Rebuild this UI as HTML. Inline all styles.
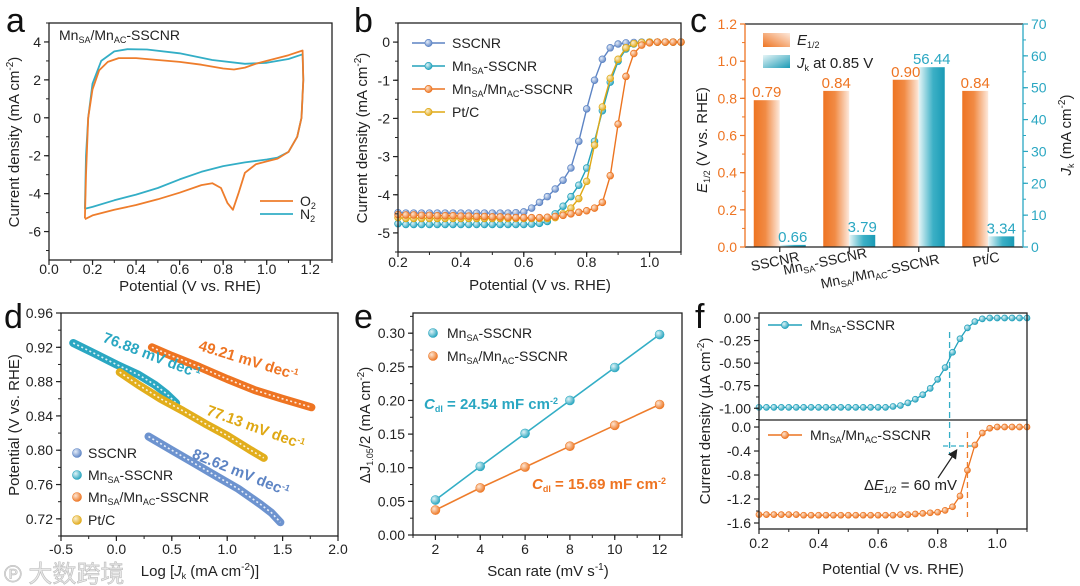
<!DOCTYPE html>
<html><head><meta charset="utf-8">
<style>
html,body{margin:0;padding:0;background:#fff;}
svg{display:block;font-family:"Liberation Sans","Noto Sans CJK SC",sans-serif;}
</style></head>
<body>
<svg id="fig" width="1080" height="586" viewBox="0 0 1080 586" xmlns="http://www.w3.org/2000/svg">
<defs>
<radialGradient id="g-blue" cx="0.35" cy="0.35" r="0.7"><stop offset="0" stop-color="#e4ecf8"/><stop offset="1" stop-color="#5d84c4"/></radialGradient>
<radialGradient id="g-teal" cx="0.35" cy="0.35" r="0.7"><stop offset="0" stop-color="#dff3f7"/><stop offset="1" stop-color="#23a2bc"/></radialGradient>
<radialGradient id="g-orange" cx="0.35" cy="0.35" r="0.7"><stop offset="0" stop-color="#fde5d2"/><stop offset="1" stop-color="#ec7420"/></radialGradient>
<radialGradient id="g-yellow" cx="0.35" cy="0.35" r="0.7"><stop offset="0" stop-color="#fbefcf"/><stop offset="1" stop-color="#e0a816"/></radialGradient>
<linearGradient id="bar-or" x1="0" x2="1" y1="0" y2="0"><stop offset="0" stop-color="#ee7422"/><stop offset="0.45" stop-color="#f18b45"/><stop offset="1" stop-color="#fde9dc"/></linearGradient>
<linearGradient id="bar-te" x1="0" x2="1" y1="0" y2="0"><stop offset="0" stop-color="#e6f5f7"/><stop offset="0.55" stop-color="#3cb0c6"/><stop offset="1" stop-color="#1a9ab5"/></linearGradient>
<linearGradient id="leg-or" x1="0" x2="1" y1="1" y2="0"><stop offset="0" stop-color="#ee7422"/><stop offset="1" stop-color="#fde9dc"/></linearGradient>
<linearGradient id="leg-te" x1="0" x2="1" y1="0" y2="1"><stop offset="0" stop-color="#e6f5f7"/><stop offset="1" stop-color="#1a9ab5"/></linearGradient>
<marker id="arrowhead" markerWidth="8" markerHeight="8" refX="6" refY="4" orient="auto"><path d="M0,0 L8,4 L0,8 z" fill="#222"/></marker>
</defs>
<g id="marks"></g>

<g font-size="34" fill="#111">
<text x="6" y="32">a</text>
<text x="354" y="32">b</text>
<text x="690" y="32">c</text>
<text x="4" y="328">d</text>
<text x="354" y="328">e</text>
<text x="695" y="328">f</text>
</g>

<g font-size="15" fill="#222">
<text x="190" y="291" text-anchor="middle">Potential (V vs. RHE)</text>
<text transform="translate(19,142) rotate(-90)" text-anchor="middle">Current density (mA cm<tspan dy="-6" font-size="10">-2</tspan><tspan dy="6">)</tspan></text>
<text x="59" y="40" font-size="14">Mn<tspan font-size="9" dy="3">SA</tspan><tspan dy="-3">/Mn</tspan><tspan font-size="9" dy="3">AC</tspan><tspan dy="-3">-SSCNR</tspan></text>
<text x="300" y="206" font-size="14">O<tspan font-size="9" dy="3">2</tspan></text>
<text x="300" y="219" font-size="14">N<tspan font-size="9" dy="3">2</tspan></text>
<text x="540" y="290" text-anchor="middle">Potential (V vs. RHE)</text>
<text transform="translate(367,138) rotate(-90)" text-anchor="middle">Current density (mA cm<tspan dy="-6" font-size="10">-2</tspan><tspan dy="6">)</tspan></text>
<text x="452" y="48" font-size="14">SSCNR</text>
<text x="452" y="71" font-size="14">Mn<tspan font-size="9" dy="3">SA</tspan><tspan dy="-3">-SSCNR</tspan></text>
<text x="452" y="94" font-size="14">Mn<tspan font-size="9" dy="3">SA</tspan><tspan dy="-3">/Mn</tspan><tspan font-size="9" dy="3">AC</tspan><tspan dy="-3">-SSCNR</tspan></text>
<text x="452" y="117" font-size="14">Pt/C</text>
<text transform="translate(707,140) rotate(-90)" text-anchor="middle"><tspan font-style="italic">E</tspan><tspan font-size="9" dy="3">1/2</tspan><tspan dy="-3"> (V vs. RHE)</tspan></text>
<text transform="translate(1071,135) rotate(-90)" text-anchor="middle"><tspan font-style="italic">J</tspan><tspan font-size="9" dy="3">k</tspan><tspan dy="-3"> (mA cm</tspan><tspan dy="-6" font-size="10">-2</tspan><tspan dy="6">)</tspan></text>
<text x="797" y="45" font-size="15"><tspan font-style="italic">E</tspan><tspan font-size="9" dy="3">1/2</tspan></text>
<text x="797" y="68" font-size="15"><tspan font-style="italic">J</tspan><tspan font-size="9" dy="3">k</tspan><tspan dy="-3"> at 0.85 V</tspan></text>
<text transform="translate(776,266) rotate(-12)" text-anchor="middle" font-size="14">SSCNR</text>
<text transform="translate(826,266) rotate(-12)" text-anchor="middle" font-size="14">Mn<tspan font-size="9" dy="3">SA</tspan><tspan dy="-3">-SSCNR</tspan></text>
<text transform="translate(881,276) rotate(-12)" text-anchor="middle" font-size="14">Mn<tspan font-size="9" dy="3">SA</tspan><tspan dy="-3">/Mn</tspan><tspan font-size="9" dy="3">AC</tspan><tspan dy="-3">-SSCNR</tspan></text>
<text transform="translate(987,264) rotate(-12)" text-anchor="middle" font-size="14">Pt/C</text>
<text x="200" y="576" text-anchor="middle">Log [<tspan font-style="italic">J</tspan><tspan font-size="9" dy="3">k</tspan><tspan dy="-3"> (mA cm</tspan><tspan dy="-6" font-size="10">-2</tspan><tspan dy="6">)]</tspan></text>
<text transform="translate(19,425) rotate(-90)" text-anchor="middle">Potential (V vs. RHE)</text>
<text x="88" y="458" font-size="14">SSCNR</text>
<text x="88" y="480" font-size="14">Mn<tspan font-size="9" dy="3">SA</tspan><tspan dy="-3">-SSCNR</tspan></text>
<text x="88" y="502" font-size="14">Mn<tspan font-size="9" dy="3">SA</tspan><tspan dy="-3">/Mn</tspan><tspan font-size="9" dy="3">AC</tspan><tspan dy="-3">-SSCNR</tspan></text>
<text x="88" y="525" font-size="14">Pt/C</text>
<g font-weight="bold" font-size="15">
<text transform="translate(150,360) rotate(21)" text-anchor="middle" fill="#2aa7c2">76.88 mV dec<tspan dy="-5" font-size="9">-1</tspan></text>
<text transform="translate(247,365) rotate(17)" text-anchor="middle" fill="#ee7422">49.21 mV dec<tspan dy="-5" font-size="9">-1</tspan></text>
<text transform="translate(254,432) rotate(20)" text-anchor="middle" fill="#dfa814">77.13 mV dec<tspan dy="-5" font-size="9">-1</tspan></text>
<text transform="translate(239,477) rotate(22)" text-anchor="middle" fill="#5d84c4">82.62 mV dec<tspan dy="-5" font-size="9">-1</tspan></text>
</g>
<text x="548" y="576" text-anchor="middle">Scan rate (mV s<tspan dy="-6" font-size="10">-1</tspan><tspan dy="6">)</tspan></text>
<text transform="translate(370,425) rotate(-90)" text-anchor="middle">ΔJ<tspan font-size="9" dy="3">1.05</tspan><tspan dy="-3">/2 (mA cm</tspan><tspan dy="-6" font-size="10">-2</tspan><tspan dy="6">)</tspan></text>
<text x="447" y="338" font-size="14">Mn<tspan font-size="9" dy="3">SA</tspan><tspan dy="-3">-SSCNR</tspan></text>
<text x="447" y="361" font-size="14">Mn<tspan font-size="9" dy="3">SA</tspan><tspan dy="-3">/Mn</tspan><tspan font-size="9" dy="3">AC</tspan><tspan dy="-3">-SSCNR</tspan></text>
<text x="424" y="409" font-size="15" font-weight="bold" fill="#2aa7c2"><tspan font-style="italic">C</tspan><tspan font-size="9" dy="3">dl</tspan><tspan dy="-3"> = 24.54 mF cm</tspan><tspan dy="-5" font-size="9">-2</tspan></text>
<text x="532" y="489" font-size="15" font-weight="bold" fill="#ee7422"><tspan font-style="italic">C</tspan><tspan font-size="9" dy="3">dl</tspan><tspan dy="-3"> = 15.69 mF cm</tspan><tspan dy="-5" font-size="9">-2</tspan></text>
<text x="893" y="574" text-anchor="middle">Potential (V vs. RHE)</text>
<text transform="translate(710,421) rotate(-90)" text-anchor="middle">Current density (μA cm<tspan dy="-6" font-size="10">-2</tspan><tspan dy="6">)</tspan></text>
<text x="810" y="330" font-size="14">Mn<tspan font-size="9" dy="3">SA</tspan><tspan dy="-3">-SSCNR</tspan></text>
<text x="810" y="440" font-size="14">Mn<tspan font-size="9" dy="3">SA</tspan><tspan dy="-3">/Mn</tspan><tspan font-size="9" dy="3">AC</tspan><tspan dy="-3">-SSCNR</tspan></text>
<text x="864" y="490" font-size="15">Δ<tspan font-style="italic">E</tspan><tspan font-size="9" dy="3">1/2</tspan><tspan dy="-3"> = 60 mV</tspan></text>
</g>
<text x="4" y="582" font-size="24" fill="#e8e8e8" stroke="#bbb" stroke-width="0.6">℗ 大数跨境</text>
</svg>
<script>
const cvO2X=[0.165,0.17,0.18,0.2,0.23,0.27,0.32,0.4,0.5,0.6,0.7,0.8,0.85,0.9,0.95,1.0,1.1,1.165,1.168,1.16,1.14,1.1,1.05,1.0,0.95,0.9,0.87,0.845,0.82,0.79,0.75,0.7,0.6,0.5,0.4,0.3,0.2,0.165];
const cvO2Y=[-5.3,-3,0,1.5,2.5,2.95,3.15,3.15,3.05,2.95,2.8,2.6,2.55,2.65,2.85,3.0,3.3,3.55,2,0,-1.0,-1.8,-2.15,-2.3,-2.45,-2.9,-4.0,-4.85,-4.5,-3.7,-3.45,-3.55,-3.95,-4.3,-4.6,-4.85,-5.15,-5.35];
const cvN2X=[0.165,0.17,0.18,0.2,0.24,0.3,0.36,0.45,0.6,0.75,0.9,1.0,1.1,1.165,1.168,1.16,1.14,1.1,1.05,1.0,0.9,0.8,0.7,0.6,0.5,0.4,0.3,0.2,0.165];
const cvN2Y=[-4.8,-2,0,1.8,3.0,3.5,3.62,3.6,3.4,3.05,2.85,2.9,3.1,3.35,2,0,-1,-1.8,-2.1,-2.2,-2.35,-2.55,-2.85,-3.25,-3.7,-4.05,-4.35,-4.7,-4.8];
const lsvX=[0.2,0.225,0.25,0.275,0.3,0.325,0.35,0.375,0.4,0.425,0.45,0.475,0.5,0.525,0.55,0.575,0.6,0.625,0.65,0.675,0.7,0.725,0.75,0.775,0.8,0.825,0.85,0.875,0.9,0.925,0.95,0.975,1.0,1.025,1.05,1.075,1.1];
const lsvSSCNR=[-4.47,-4.48,-4.48,-4.48,-4.48,-4.48,-4.48,-4.48,-4.48,-4.48,-4.48,-4.48,-4.48,-4.48,-4.48,-4.47,-4.45,-4.35,-4.2,-4.05,-3.85,-3.62,-3.3,-2.6,-1.75,-1.0,-0.45,-0.15,-0.05,-0.02,-0.01,0,0,0,0,0,0];
const lsvMnSA=[-4.76,-4.78,-4.78,-4.78,-4.78,-4.78,-4.78,-4.78,-4.78,-4.78,-4.78,-4.78,-4.78,-4.78,-4.78,-4.78,-4.78,-4.77,-4.75,-4.7,-4.5,-4.3,-4.05,-3.75,-3.3,-2.6,-1.8,-1.05,-0.5,-0.18,-0.05,-0.01,0,0,0,0,0];
const lsvMnMn=[-4.52,-4.53,-4.53,-4.54,-4.54,-4.55,-4.55,-4.55,-4.56,-4.56,-4.57,-4.57,-4.58,-4.58,-4.59,-4.6,-4.6,-4.6,-4.6,-4.59,-4.57,-4.54,-4.5,-4.46,-4.42,-4.35,-4.2,-3.5,-2.15,-0.9,-0.3,-0.08,-0.02,0,0,0,0];
const lsvPtC=[-4.6,-4.62,-4.62,-4.62,-4.62,-4.62,-4.62,-4.62,-4.62,-4.62,-4.62,-4.62,-4.62,-4.62,-4.62,-4.62,-4.62,-4.62,-4.62,-4.62,-4.6,-4.5,-4.35,-4.1,-3.65,-2.7,-1.7,-0.95,-0.45,-0.15,-0.04,-0.01,0,0,0,0,0];
const barCats=['SSCNR','MnSA-SSCNR','MnSA/MnAC-SSCNR','Pt/C'];
const barE12=[0.79,0.84,0.90,0.84];
const barJk=[0.66,3.79,56.44,3.34];
const barE12Labels=['0.79','0.84','0.90','0.84'];
const barJkLabels=['0.66','3.79','56.44','3.34'];
const tafSSCNRX=[0.29,0.5,0.7,0.9,1.1,1.3,1.4,1.48];
const tafSSCNRY=[0.816,0.800,0.785,0.770,0.755,0.737,0.727,0.716];
const tafMnSAX=[-0.39,-0.2,0,0.2,0.35,0.45,0.54];
const tafMnSAY=[0.925,0.913,0.900,0.888,0.876,0.866,0.855];
const tafMnMnX=[0.32,0.5,0.75,1.0,1.25,1.5,1.76];
const tafMnMnY=[0.920,0.910,0.897,0.883,0.870,0.860,0.850];
const tafPtCX=[0.03,0.2,0.4,0.6,0.8,1.0,1.2,1.33];
const tafPtCY=[0.891,0.876,0.860,0.846,0.831,0.817,0.801,0.791];
const scanRates=[2,4,6,8,10,12];
const cdlMnSA=[0.052,0.102,0.151,0.200,0.249,0.298];
const cdlMnMn=[0.037,0.070,0.101,0.132,0.163,0.194];
const fX=[0.2,0.225,0.25,0.275,0.3,0.325,0.35,0.375,0.4,0.425,0.45,0.475,0.5,0.525,0.55,0.575,0.6,0.625,0.65,0.675,0.7,0.725,0.75,0.775,0.8,0.825,0.85,0.875,0.9,0.925,0.95,0.975,1.0,1.025,1.05,1.075,1.1];
const fTop=[-0.99,-0.99,-0.99,-0.99,-0.99,-0.99,-0.99,-0.99,-0.99,-0.99,-0.99,-0.99,-0.99,-0.99,-0.99,-0.99,-0.99,-0.99,-0.98,-0.97,-0.94,-0.9,-0.85,-0.78,-0.68,-0.55,-0.38,-0.23,-0.11,-0.04,-0.01,0,0,0,0,0,0];
const fBot=[-1.46,-1.46,-1.46,-1.46,-1.46,-1.46,-1.47,-1.47,-1.47,-1.47,-1.47,-1.47,-1.47,-1.47,-1.47,-1.47,-1.47,-1.47,-1.47,-1.46,-1.46,-1.45,-1.44,-1.43,-1.42,-1.39,-1.33,-1.15,-0.72,-0.3,-0.1,-0.02,0,0,0,0,0];
const aXTicks=[0,0.2,0.4,0.6,0.8,1.0,1.2], aXLabels=['0.0','0.2','0.4','0.6','0.8','1.0','1.2'];
const aYTicks=[-6,-4,-2,0,2,4], aYLabels=['-6','-4','-2','0','2','4'];
const bXTicks=[0.2,0.4,0.6,0.8,1.0], bXLabels=['0.2','0.4','0.6','0.8','1.0'];
const bYTicks=[-5,-4,-3,-2,-1,0], bYLabels=['-5','-4','-3','-2','-1','0'];
const cLTicks=[0,0.2,0.4,0.6,0.8,1.0,1.2], cLLabels=['0.0','0.2','0.4','0.6','0.8','1.0','1.2'];
const cRTicks=[0,10,20,30,40,50,60,70], cRLabels=['0','10','20','30','40','50','60','70'];
const dXTicks=[-0.5,0,0.5,1.0,1.5,2.0], dXLabels=['-0.5','0.0','0.5','1.0','1.5','2.0'];
const dYTicks=[0.72,0.76,0.80,0.84,0.88,0.92,0.96], dYLabels=['0.72','0.76','0.80','0.84','0.88','0.92','0.96'];
const eXTicks=[2,4,6,8,10,12], eXLabels=['2','4','6','8','10','12'];
const eYTicks=[0,0.05,0.10,0.15,0.20,0.25,0.30], eYLabels=['0.00','0.05','0.10','0.15','0.20','0.25','0.30'];
const fXTicks=[0.2,0.4,0.6,0.8,1.0], fXLabels=['0.2','0.4','0.6','0.8','1.0'];
const f1Ticks=[-1,-0.75,-0.5,-0.25,0], f1Labels=['-1.00','-0.75','-0.50','-0.25','0.00'];
const f2Ticks=[-1.6,-1.2,-0.8,-0.4,0], f2Labels=['-1.6','-1.2','-0.8','-0.4','0.0'];

const NS='http://www.w3.org/2000/svg';
const root=document.getElementById('marks');
function mk(tag,attrs,parent){const e=document.createElementNS(NS,tag);for(const k in attrs)e.setAttribute(k,attrs[k]);(parent||root).appendChild(e);return e;}
function lin(d0,d1,p0,p1){return v=>p0+(v-d0)/(d1-d0)*(p1-p0);}
function frame(name,L,R,T,B){
  const r=mk('rect',{x:L,y:T,width:R-L,height:B-T,fill:'none',stroke:'#222','stroke-width':1.3});
  
  
}
function xAxis(name,sx,B,ticks,labels,minorStep,lo,hi,off){
  ticks.forEach((t,i)=>{
    const l=mk('line',{x1:sx(t),x2:sx(t),y1:B,y2:B+5,stroke:'#222','stroke-width':1.2});
    
    
    const tx=mk('text',{x:sx(t),y:B+off,'text-anchor':'middle','font-size':14,fill:'#222'});
    tx.textContent=labels[i];
    
    
  });
  for(let v=lo;v<=hi+1e-9;v+=minorStep){
    const m=mk('line',{x1:sx(v),x2:sx(v),y1:B,y2:B+3,stroke:'#222','stroke-width':1});
    
    
  }
}
function yAxis(name,sy,X,ticks,labels,minorStep,lo,hi,color,right){
  const dir=right?1:-1;
  ticks.forEach((t,i)=>{
    const l=mk('line',{x1:X,x2:X+dir*5,y1:sy(t),y2:sy(t),stroke:color,'stroke-width':1.2});
    
    
    const tx=mk('text',{x:X+dir*8,y:sy(t)+5,'text-anchor':right?'start':'end','font-size':14,fill:color});
    tx.textContent=labels[i];
    
    
  });
  for(let v=lo;v<=hi+1e-9;v+=minorStep){
    const m=mk('line',{x1:X,x2:X+dir*3,y1:sy(v),y2:sy(v),stroke:color,'stroke-width':1});
    
    
  }
}
function pathD(xs,ys,sx,sy){return xs.map((x,i)=>(i?'L':'M')+sx(x).toFixed(1)+','+sy(ys[i]).toFixed(1)).join(' ');}

// A
const sxA=lin(0,1.3,49,332), syA=lin(5,-7.5,23,260);
const pN2=mk('path',{d:pathD(cvN2X,cvN2Y,sxA,syA),fill:'none',stroke:'#33aec6','stroke-width':1.8,'stroke-linejoin':'round'});


const pO2=mk('path',{d:pathD(cvO2X,cvO2Y,sxA,syA),fill:'none',stroke:'#ee7d2c','stroke-width':1.8,'stroke-linejoin':'round'});


frame('a-plot-frame',49,332,23,260);
xAxis('a-x-axis',sxA,260,aXTicks,aXLabels,0.1,0,1.3,14);
yAxis('a-y-axis',syA,49,aYTicks,aYLabels,1,-7,5,'#222',false);
const lgO2=mk('line',{x1:260,x2:293,y1:201,y2:201,stroke:'#ee7d2c','stroke-width':1.8});


const lgN2=mk('line',{x1:260,x2:293,y1:214,y2:214,stroke:'#33aec6','stroke-width':1.8});



// B
const sxB=lin(0.2,1.1,398,681), syB=lin(0.5,-5.5,23,252);
const bSeries=[[lsvSSCNR,'#5d84c4','g-blue','sscnr'],[lsvMnSA,'#23a2bc','g-teal','mnsa'],[lsvPtC,'#dfa814','g-yellow','ptc'],[lsvMnMn,'#ec7420','g-orange','mnsa-mnac']];
bSeries.forEach(s=>{
  const p=mk('path',{d:pathD(lsvX,s[0],sxB,syB),fill:'none',stroke:s[1],'stroke-width':1.4});
  
  
  lsvX.forEach((x,i)=>{
    const c=mk('circle',{cx:sxB(x),cy:syB(s[0][i]),r:3.4,fill:'url(#'+s[2]+')',stroke:s[1],'stroke-width':0.7});
    
    
  });
});
frame('b-plot-frame',398,681,23,252);
xAxis('b-x-axis',sxB,252,bXTicks,bXLabels,0.1,0.2,1.1,15);
yAxis('b-y-axis',syB,398,bYTicks,bYLabels,0.5,-5.5,0.5,'#222',false);
[['#5d84c4','g-blue',43,'sscnr'],['#23a2bc','g-teal',66,'mnsa'],['#ec7420','g-orange',89,'mnsa-mnac'],['#dfa814','g-yellow',112,'ptc']].forEach(s=>{
  const l=mk('line',{x1:412,x2:445,y1:s[2],y2:s[2],stroke:s[0],'stroke-width':1.4});
  
  
  const c=mk('circle',{cx:428.5,cy:s[2],r:3.6,fill:'url(#'+s[1]+')',stroke:s[0],'stroke-width':0.7});
  
  
});

// C
const cL=745,cR=1023,cT=24,cB=247;
const syCL=lin(0,1.2,cB,cT), syCR=lin(0,70,cB,cT);
const bandW=(cR-cL)/barCats.length, barW=26;
barCats.forEach((cat,i)=>{
  const cx=cL+bandW*(i+0.5);
  const r1=mk('rect',{x:cx-barW,y:syCL(barE12[i]),width:barW,height:cB-syCL(barE12[i]),fill:'url(#bar-or)'});
  
  
  const r2=mk('rect',{x:cx,y:syCR(barJk[i]),width:barW,height:cB-syCR(barJk[i]),fill:'url(#bar-te)'});
  
  
  const t1=mk('text',{x:cx-barW/2,y:syCL(barE12[i])-3,'text-anchor':'middle','font-size':15,fill:'#ee7422'});
  t1.textContent=barE12Labels[i];
  
  
  const t2=mk('text',{x:cx+barW/2,y:syCR(barJk[i])-3,'text-anchor':'middle','font-size':15,fill:'#2aa7c2'});
  t2.textContent=barJkLabels[i];
  
  
  const tk=mk('line',{x1:cx,x2:cx,y1:cB,y2:cB+5,stroke:'#222','stroke-width':1.2});
  
  
});
const ctop=mk('line',{x1:cL,x2:cR,y1:cT,y2:cT,stroke:'#222','stroke-width':1.3});


const cbot=mk('line',{x1:cL,x2:cR,y1:cB,y2:cB,stroke:'#222','stroke-width':1.3});


const cla=mk('line',{x1:cL,x2:cL,y1:cT,y2:cB,stroke:'#ee7422','stroke-width':1.3});


const cra=mk('line',{x1:cR,x2:cR,y1:cT,y2:cB,stroke:'#2aa7c2','stroke-width':1.3});


yAxis('c-left-axis',syCL,cL,cLTicks,cLLabels,0.1,0,1.2,'#ee7422',false);
yAxis('c-right-axis',syCR,cR,cRTicks,cRLabels,5,0,70,'#2aa7c2',true);
const sw1=mk('rect',{x:763,y:33,width:27,height:14,fill:'url(#leg-or)'});


const sw2=mk('rect',{x:763,y:55,width:27,height:13,fill:'url(#leg-te)'});



// D
const sxD=lin(-0.5,2.0,61,338), syD=lin(0.70,0.96,536,313);
[[tafSSCNRX,tafSSCNRY,'#6d93cf','sscnr'],[tafMnSAX,tafMnSAY,'#2aa7c2','mnsa'],[tafPtCX,tafPtCY,'#e2ae1c','ptc'],[tafMnMnX,tafMnMnY,'#ee7422','mnsa-mnac']].forEach(s=>{
  const d=pathD(s[0],s[1],sxD,syD);
  const p=mk('path',{d:d,fill:'none',stroke:s[2],'stroke-width':8,'stroke-linecap':'round','stroke-linejoin':'round'});
  
  
  const p2=mk('path',{d:d,fill:'none',stroke:'#fff','stroke-width':1.6,'stroke-dasharray':'2 2.5',opacity:0.85});
  
  
});
frame('d-plot-frame',61,338,313,536);
xAxis('d-x-axis',sxD,536,dXTicks,dXLabels,0.25,-0.5,2.0,18);
yAxis('d-y-axis',syD,61,dYTicks,dYLabels,0.02,0.70,0.96,'#222',false);
[['g-blue','#5d84c4',453,'sscnr'],['g-teal','#23a2bc',475,'mnsa'],['g-orange','#ec7420',497,'mnsa-mnac'],['g-yellow','#dfa814',520,'ptc']].forEach(s=>{
  const c=mk('circle',{cx:77,cy:s[2],r:4.5,fill:'url(#'+s[0]+')',stroke:s[1],'stroke-width':0.6});
  
  
});

// E
const sxE=lin(1,13,413,682), syE=lin(0,0.33,535,313);
[[cdlMnSA,'#33aec6','g-teal','mnsa'],[cdlMnMn,'#ee7d2c','g-orange','mnsa-mnac']].forEach(s=>{
  const p=mk('path',{d:pathD(scanRates,s[0],sxE,syE),fill:'none',stroke:s[1],'stroke-width':1.6});
  
  
  scanRates.forEach((x,i)=>{
    const c=mk('circle',{cx:sxE(x),cy:syE(s[0][i]),r:4.5,fill:'url(#'+s[2]+')',stroke:s[1],'stroke-width':0.6});
    
    
  });
});
frame('e-plot-frame',413,682,313,535);
xAxis('e-x-axis',sxE,535,eXTicks,eXLabels,1,1,13,19);
yAxis('e-y-axis',syE,413,eYTicks,eYLabels,0.025,0,0.325,'#222',false);
[['g-teal','#23a2bc',333,'mnsa'],['g-orange','#ec7420',356,'mnsa-mnac']].forEach(s=>{
  const c=mk('circle',{cx:433,cy:s[2],r:4.5,fill:'url(#'+s[0]+')',stroke:s[1],'stroke-width':0.6});
  
  
});

// F
const sxF=lin(0.2,1.1,759,1027), syF1=lin(0.055,-1.13,313,420), syF2=lin(0.117,-1.7,420,529);
[[fTop,syF1,'#23a2bc','g-teal','mnsa'],[fBot,syF2,'#ec7420','g-orange','mnsa-mnac']].forEach(s=>{
  const p=mk('path',{d:pathD(fX,s[0],sxF,s[1]),fill:'none',stroke:s[2],'stroke-width':1.3});
  
  
  fX.forEach((x,i)=>{
    const c=mk('circle',{cx:sxF(x),cy:s[1](s[0][i]),r:3,fill:'url(#'+s[3]+')',stroke:s[2],'stroke-width':0.7});
    
    
  });
});
frame('f-plot-frame',759,1027,313,529);
const sep=mk('line',{x1:759,x2:1027,y1:420,y2:420,stroke:'#222','stroke-width':1.3});


xAxis('f-x-axis',sxF,529,fXTicks,fXLabels,0.1,0.2,1.1,19);
yAxis('f-top-y-axis',syF1,759,f1Ticks,f1Labels,0.125,-1.125,0,'#222',false);
yAxis('f-bottom-y-axis',syF2,759,f2Ticks,f2Labels,0.2,-1.6,0,'#222',false);
const dv1=mk('line',{x1:sxF(0.84),x2:sxF(0.84),y1:332,y2:455,stroke:'#33aec6','stroke-width':1.3,'stroke-dasharray':'6 4'});


const dh=mk('line',{x1:943,x2:975,y1:446,y2:446,stroke:'#33aec6','stroke-width':1.3,'stroke-dasharray':'5 3'});


const dv2=mk('line',{x1:sxF(0.9),x2:sxF(0.9),y1:432,y2:517,stroke:'#ee7d2c','stroke-width':1.3,'stroke-dasharray':'6 4'});


const ar=mk('line',{x1:938,y1:478,x2:956,y2:451,stroke:'#222','stroke-width':1.2,'marker-end':'url(#arrowhead)'});


[['g-teal','#23a2bc',325,'mnsa'],['g-orange','#ec7420',435,'mnsa-mnac']].forEach(s=>{
  const l=mk('line',{x1:768,x2:802,y1:s[2],y2:s[2],stroke:s[1],'stroke-width':1.4});
  
  
  const c=mk('circle',{cx:785,cy:s[2],r:3.6,fill:'url(#'+s[0]+')',stroke:s[1],'stroke-width':0.7});
  
  
});
</script>
</body></html>
